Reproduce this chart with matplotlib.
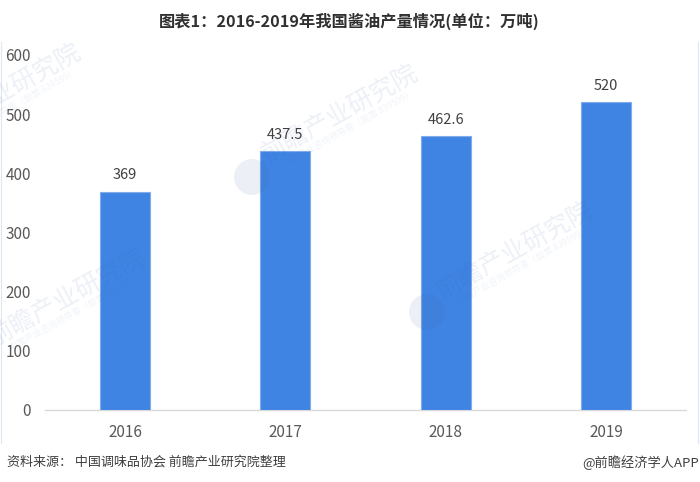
import matplotlib
matplotlib.use('Agg')
import matplotlib.pyplot as plt
from matplotlib.patches import Circle
from matplotlib.transforms import IdentityTransform

years = ['2016', '2017', '2018', '2019']
output = [369, 437.5, 462.6, 520]
value_labels = ['369', '437.5', '462.6', '520']
yticks = [0, 100, 200, 300, 400, 500, 600]

plt.rcParams['font.family'] = ['Noto Sans CJK SC', 'DejaVu Sans']

W, H = 700, 482
fig = plt.figure(figsize=(7, 4.82), dpi=100)
ax = fig.add_axes([45 / W, 1 - 410 / H, 641 / W, 355 / H])

ax.bar(years, output, width=0.312, color='#4084e3', edgecolor='#7fadea', linewidth=0.8, zorder=3)
for i in range(len(years)):
    ax.text(i, output[i] + 28, value_labels[i], ha='center', va='center', fontsize=10.5, color='#404040', zorder=4)

ax.set_xlim(-0.5, 3.5)
ax.set_ylim(0, 600)
ax.set_yticks(yticks)
ax.tick_params(axis='both', length=0, labelsize=11, labelcolor='#595959')
ax.tick_params(axis='x', pad=10)
ax.tick_params(axis='y', pad=10)
for s in ['top', 'right', 'left']:
    ax.spines[s].set_visible(False)
ax.spines['bottom'].set_color('#d9d9d9')
ax.spines['bottom'].set_linewidth(1)

# watermarks, see-through so the bars show under them
wm_color = '#2f5a9e'
wm_alpha = 0.09
marks = [(3, 92), (340, 113), (515, 250), (67, 297)]
for x, y in marks:
    fig.text(x / W, 1 - y / H, '前瞻产业研究院', rotation=29, rotation_mode='anchor',
             ha='center', va='center', fontsize=18, color=wm_color, alpha=wm_alpha, zorder=5)
    fig.text((x + 9) / W, 1 - (y + 16) / H, '中国产业咨询领导者（股票 839599）', rotation=29, rotation_mode='anchor',
             ha='center', va='center', fontsize=6.5, color=wm_color, alpha=wm_alpha * 0.8, zorder=5)
for x, y in [(252, 177), (427, 312)]:
    fig.add_artist(Circle((x, H - y), 18, transform=IdentityTransform(), facecolor=wm_color,
                          edgecolor='none', alpha=wm_alpha, zorder=5))

# faint frame around the chart
fig.add_artist(plt.Line2D([0.5 / W, 0.5 / W], [1 - 42 / H, 1 - 443 / H], color='#dfe7f2', lw=0.8))
fig.add_artist(plt.Line2D([698 / W, 698 / W], [1 - 42 / H, 1 - 443 / H], color='#dfe7f2', lw=0.8))

fig.text(349 / W, 1 - 21 / H, '图表1：2016-2019年我国酱油产量情况(单位：万吨)', ha='center', va='center',
         fontsize=11.7, fontweight='bold', color='#303030')
fig.text(7 / W, 1 - 462.5 / H, '资料来源： 中国调味品协会 前瞻产业研究院整理', ha='left', va='center',
         fontsize=9.4, color='#404040')
fig.text(699 / W, 1 - 462.5 / H, '@前瞻经济学人APP', ha='right', va='center', fontsize=9.5, color='#404040')

fig.savefig('out.png', dpi=100)
